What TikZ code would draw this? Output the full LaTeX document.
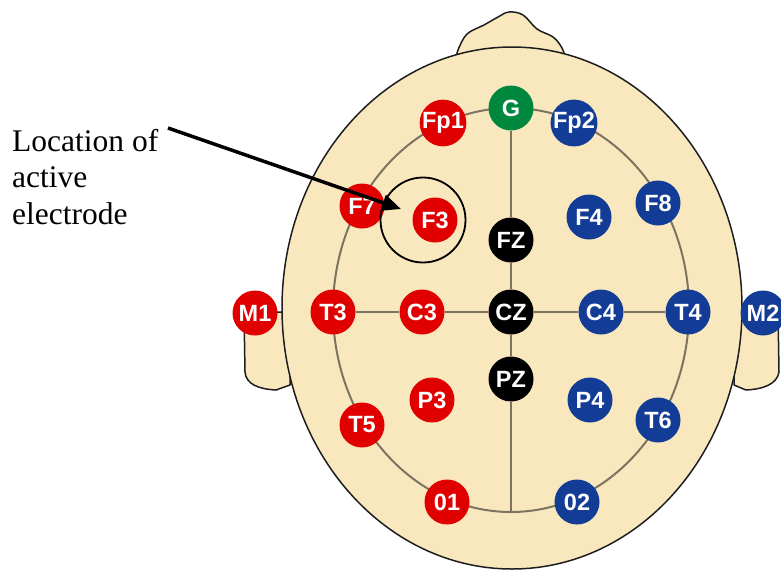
\documentclass[tikz,border=0pt]{standalone}
\usepackage{fontspec}
\setmainfont{Liberation Serif}
\newfontfamily\elfont{Liberation Sans}
\usetikzlibrary{arrows.meta}

\definecolor{skin}{RGB}{249,232,190}
\definecolor{skinline}{RGB}{30,30,30}
\definecolor{gridline}{RGB}{125,116,96}
\definecolor{elred}{RGB}{224,0,0}
\definecolor{elblue}{RGB}{18,60,150}
\definecolor{elgreen}{RGB}{0,135,62}

\tikzset{
  electrode/.style={circle, minimum size=45pt, inner sep=0pt, text=white,
    font=\elfont\bfseries\fontsize{23.5}{23.5}\selectfont},
  left side/.style={electrode, fill=elred},
  right side/.style={electrode, fill=elblue},
  mid line/.style={electrode, fill=black},
  ground/.style={electrode, fill=elgreen},
  headpart/.style={fill=skin, draw=skinline, line width=1.5pt, line join=round},
  montage/.style={draw=gridline, line width=2pt},
}

\begin{document}
\begin{tikzpicture}[x=1pt, y=-1pt]
\useasboundingbox (0,0) rectangle (781,571);

% ears
\path[headpart] (290,312) -- (244,312) -- (245,372)
  .. controls (246,384) and (258,389) .. (276,390) -- (290,385) -- cycle;
\path[headpart] (734,312) -- (778,312) -- (779,372)
  .. controls (777,384) and (764,389) .. (746,390) -- (734,385) -- cycle;

% nose
\path[headpart] plot[smooth, tension=0.6] coordinates
  {(456,60) (458,50) (467,34) (484,25) (498,17) (509,12) (523,15) (537,29) (553,37) (562,48) (566,60)} -- cycle;

% scalp
\path[headpart] (512,308) ellipse [x radius=230, y radius=261];

% montage ring
\draw[montage] (511,310) ellipse [x radius=178, y radius=202];
\coordinate (ringbot) at (511,512);

% electrodes
\node[ground]     (G)   at (511,108) {G};
\node[left side]  (Fp1) at (443,123) {Fp1};
\node[right side] (Fp2) at (574,123) {Fp2};
\node[left side]  (F7)  at (362,206) {F7};
\node[left side]  (F3)  at (435,220) {F3};
\node[mid line]   (FZ)  at (511,240) {FZ};
\node[right side] (F4)  at (589,217) {F4};
\node[right side] (F8)  at (658,203) {F8};
\node[left side]  (M1)  at (255,313) {M1};
\node[left side]  (T3)  at (333,312) {T3};
\node[left side]  (C3)  at (422,312) {C3};
\node[mid line]   (CZ)  at (511,312) {CZ};
\node[right side] (C4)  at (601,312) {C4};
\node[right side] (T4)  at (688,312) {T4};
\node[right side] (M2)  at (763,313) {M2};
\node[mid line]   (PZ)  at (511,379) {PZ};
\node[left side]  (P3)  at (432,400) {P3};
\node[right side] (P4)  at (590,400) {P4};
\node[left side]  (T5)  at (362,425) {T5};
\node[right side] (T6)  at (658,420) {T6};
\node[left side]  (O1)  at (447,502) {01};
\node[right side] (O2)  at (577,502) {02};

% midline and coronal connections
\draw[montage] (G) -- (FZ) -- (CZ) -- (PZ) -- (ringbot);
\draw[montage] (T3) -- (C3) -- (CZ) -- (C4) -- (T4);

% highlight around the active electrode
\node[draw=black, line width=1.8pt, circle, minimum size=85pt] (active) at (423,220) {};

% caption and pointer
\node[anchor=north west, inner sep=0pt, align=left,
      font=\fontsize{31.5}{36.5}\selectfont] (caption) at (12,129)
  {Location of\\active\\electrode};
\coordinate (tail) at (168,128);
\coordinate (tip) at (401,209);
\draw[line width=3.5pt, -{Triangle[length=19pt, width=16pt]}] (tail) -- (tip);
\end{tikzpicture}
\end{document}
